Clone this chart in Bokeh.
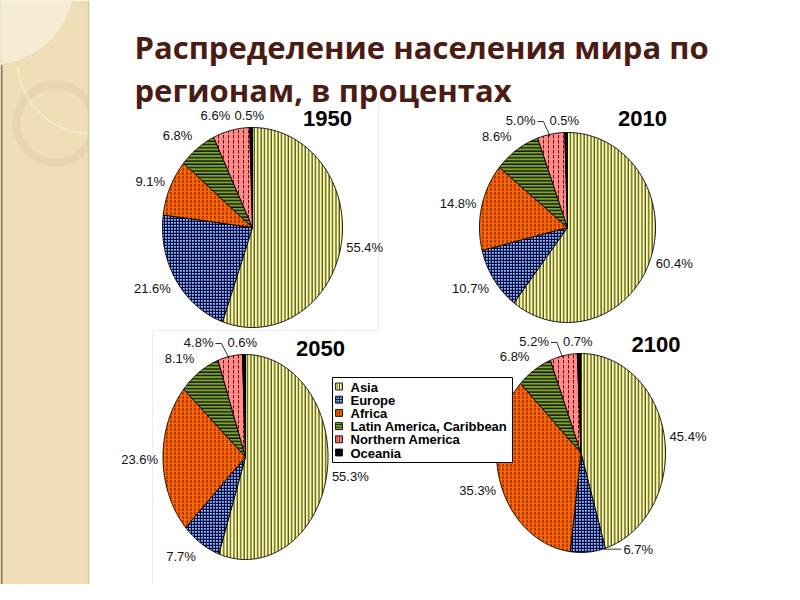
import numpy as np
from bokeh.plotting import figure
from bokeh.models import Range1d, ColumnDataSource
from bokeh.core.properties import value
from bokeh.embed import file_html
from bokeh.resources import INLINE

# ---------------- data ----------------
regions = ["Asia", "Europe", "Africa", "Latin America, Caribbean", "Northern America", "Oceania"]
years = ["1950", "2010", "2050", "2100"]
share_1950 = [55.4, 21.6, 9.1, 6.8, 6.6, 0.5]
share_2010 = [60.4, 10.7, 14.8, 8.6, 5.0, 0.5]
share_2050 = [55.3, 7.7, 23.6, 8.1, 4.8, 0.6]
share_2100 = [45.4, 6.7, 35.3, 6.8, 5.2, 0.7]
title_lines = ["Распределение населения мира по", "регионам, в процентах"]

# ---------------- styles ----------------
fills = ["#FFFF99", "#9EC4EC", "#FF6600", "#7BA428", "#FF8C8C", "#000000"]
hatches = ["vertical_line", "cross", "vertical_dash", "horizontal_line", "vertical_dash", "blank"]
hatch_colors = ["#1A1A1A", "#000A50", "#5A1800", "#101010", "#7A0000", "#000000"]
hatch_scales = [3.4, 3.0, 4.0, 3.3, 5.0, 4.0]
hatch_weights = [1.0, 1.35, 1.0, 1.4, 1.0, 1.0]

# ---------------- layout (pixel frame of the slide) ----------------
W, H = 784, 584
pies = [  # cx, cy, rx, ry
    (252.0, 227.0, 90.0, 100.0),
    (567.0, 227.0, 88.0, 95.0),
    (245.0, 456.5, 82.5, 102.5),
    (580.5, 452.5, 84.5, 99.5),
]
all_shares = [share_1950, share_2010, share_2050, share_2100]

p = figure(width=W, height=H, x_range=Range1d(0, W), y_range=Range1d(H, 0),
           output_backend="svg", toolbar_location=None, min_border=0)
p.axis.visible = False
p.grid.visible = False
p.outline_line_color = None
p.background_fill_color = "white"
p.border_fill_color = "white"

# ---------- slide decoration (left strip) ----------
p.quad(left=0, right=88, top=0, bottom=H, fill_color="#F0DFB6", line_color=None)
p.line([1, 1], [0, H], line_color="#8C7A58", line_width=2)
p.circle(x=-10, y=-20, radius=85, fill_color="#F6ECD4", line_color="#E9DAB8", line_width=1)
p.annulus(x=55, y=123, inner_radius=35, outer_radius=43, fill_color="#E3D2AA", fill_alpha=0.75, line_color=None)
t = np.linspace(np.radians(92), np.radians(176), 60)
p.line(90 + 73 * np.cos(t), 60 + 73 * np.sin(t), line_color="#FBF6EA", line_width=1)
p.quad(left=88, right=140, top=0, bottom=200, fill_color="white", line_color=None)
p.line([88, 88], [0, H], line_color="#D6C39A", line_width=1.5)

# faint picture frames
p.line([378, 378], [95, 330], line_color="#EFEFEF", line_width=1)
p.line([152, 378], [330, 330], line_color="#EFEFEF", line_width=1)
p.line([152, 152], [330, H], line_color="#EFEFEF", line_width=1)

# ---------- title ----------
p.text(x=[134, 134], y=[46, 89], text=title_lines, text_font=value("Open Sans"),
       text_font_style="bold", text_font_size=value("31px"), text_color="#4A1C14",
       text_baseline="middle", text_align="left")


def draw_pie(shares, year, cx, cy, rx, ry):
    fr = np.array(shares, dtype=float) / sum(shares)
    cum = np.concatenate([[0.0], np.cumsum(fr)]) * 2 * np.pi
    xs, ys = [], []
    for a0, a1 in zip(cum[:-1], cum[1:]):
        n = max(3, int((a1 - a0) / (2 * np.pi) * 400))
        tt = np.linspace(a0, a1, n)
        xs.append([cx] + list(cx + rx * np.sin(tt)))
        ys.append([cy] + list(cy - ry * np.cos(tt)))
    src = ColumnDataSource(dict(xs=xs, ys=ys, fill=fills, hp=hatches, hc=hatch_colors,
                                hs=hatch_scales, hw=hatch_weights))
    p.patches("xs", "ys", source=src, fill_color="fill", hatch_pattern="hp", hatch_color="hc",
              hatch_scale="hs", hatch_weight="hw", line_color="black", line_width=0.9)

    # labels
    mid = (cum[:-1] + cum[1:]) / 2
    s, c = np.sin(mid), np.cos(mid)
    ex, ey = cx + rx * s, cy - ry * c
    lab = [f"{v:.1f}%" for v in shares]
    lx, ly, la = [], [], []
    n = len(shares)
    top_y = cy - ry - 12
    for i in range(n):
        if i == n - 1:  # tiny top slice: to the right of the top
            lx.append(cx - 18); ly.append(top_y); la.append("left")
        elif i == n - 2:  # small slice next to the top
            if ex[i] < cx - 20:
                lx.append(ex[i] - 1); ly.append(top_y); la.append("right")
            else:
                end = cx - 32
                lx.append(end); ly.append(top_y); la.append("right")
                p.line([end + 2, end + 8, ex[i] - 1], [top_y + 1, top_y + 1, ey[i] + 2],
                       line_color="black", line_width=0.8)
        elif abs(s[i]) < 0.3 and c[i] < 0:  # bottom slice: label pushed right
            x0 = ex[i] + 0.42 * rx
            lx.append(x0); ly.append(ey[i] - 3); la.append("left")
            p.line([ex[i] + 16, x0 - 2], [ey[i] - 3, ey[i] - 3], line_color="black", line_width=0.8)
        else:
            lx.append(ex[i] + 5 * np.sign(s[i])); ly.append(ey[i] - 16 * c[i])
            la.append("left" if s[i] >= 0 else "right")
    p.text(x=lx, y=ly, text=lab, text_align=la, text_baseline="middle",
           text_font=value("Liberation Sans"), text_font_size=value("13px"), text_color="#111111")

    p.text(x=[cx + 75], y=[cy - 109], text=[year], text_align="center", text_baseline="middle",
           text_font=value("Liberation Sans"), text_font_style="bold",
           text_font_size=value("22px"), text_color="#000000")


for shares, year, (cx, cy, rx, ry) in zip(all_shares, years, pies):
    draw_pie(shares, year, cx, cy, rx, ry)

# ---------- legend ----------
p.quad(left=332, right=512, top=377, bottom=462, fill_color="white", line_color="black", line_width=1)
rows = 386 + 13.2 * np.arange(len(regions))
leg = ColumnDataSource(dict(x=[338.5] * len(regions), y=list(rows), fill=fills, hp=hatches,
                            hc=hatch_colors, name=regions))
p.rect("x", "y", width=7, height=7, source=leg, fill_color="fill", hatch_pattern="hp",
       hatch_color="hc", hatch_scale=2.5, hatch_weight=1, line_color="black", line_width=0.8)
p.text(x=[350] * len(regions), y=list(rows + 0.5), text=regions, text_baseline="middle",
       text_align="left", text_font=value("Liberation Sans"), text_font_style="bold",
       text_font_size=value("13px"), text_color="#000000")

open("out.html", "w").write(file_html(p, INLINE))
